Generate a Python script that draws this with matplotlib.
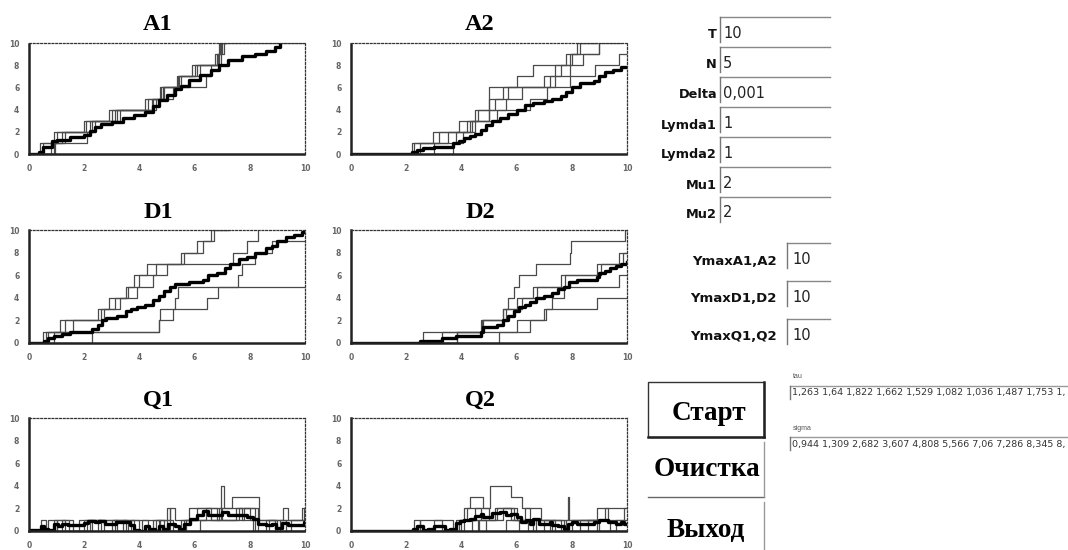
import numpy as np
import matplotlib
matplotlib.use("Agg")
import matplotlib.pyplot as plt
from matplotlib.lines import Line2D
from matplotlib.patches import Rectangle

W, H = 1068, 550

# ---- arrivals A1 / A2 : jump times of the 5 realisations ----
a1_runs = [
    [0.95, 1.2, 2.0, 3.1, 4.6, 5.2, 6.4, 6.6, 6.9, 6.92],
    [0.5, 1.0, 2.2, 2.9, 4.3, 4.8, 5.4, 6.0, 6.85, 7.0, 7.1],
    [0.8, 2.1, 2.3, 3.3, 4.5, 4.9, 5.5, 6.2, 6.95, 7.05, 7.2],
    [0.4, 0.9, 2.4, 3.0, 4.2, 4.75, 5.35, 6.1, 6.8, 6.95, 7.15],
    [0.9, 1.3, 2.05, 3.2, 4.45, 4.85, 5.45, 5.9, 6.75, 6.9, 7.0],
]
a1_mean_t = [0, 0.35, 0.5, 0.85, 1.0, 1.5, 2.0, 2.2, 2.4, 2.6, 3.0, 3.4, 3.8, 4.2, 4.5,
             4.7, 5.0, 5.3, 5.5, 5.8, 6.2, 6.6, 6.9, 7.2, 7.7, 8.2, 8.6, 8.9, 9.1]
a1_mean_v = [0, 0.2, 0.6, 1.2, 1.3, 1.5, 1.7, 2.1, 2.4, 2.7, 2.9, 3.2, 3.5, 3.8, 4.3,
             4.9, 5.3, 5.9, 6.1, 6.7, 7.1, 7.6, 8.0, 8.5, 8.8, 9.0, 9.3, 9.6, 10.0]

a2_runs = [
    [2.2, 2.97, 4.3, 5.0, 5.0, 5.0, 7.95, 7.95, 7.95, 8.97, 8.97],
    [3.7, 4.05, 4.5, 5.3, 6.5, 7.1, 7.4, 8.85, 9.7],
    [2.5, 3.2, 3.9, 4.5, 5.0, 5.7, 7.2, 7.4, 8.0, 8.3, 8.9, 9.3],
    [2.3, 3.5, 4.2, 4.6, 5.2, 5.5, 6.0, 6.6, 7.8, 8.2, 8.9, 9.5],
    [3.0, 3.8, 4.4, 5.0, 5.6, 6.2, 7.0, 7.6, 8.4, 9.0, 9.8],
]
a2_mean_t = [0, 2.2, 2.4, 2.6, 3.0, 3.7, 3.9, 4.1, 4.3, 4.5, 4.7, 4.9, 5.1, 5.4, 5.7,
             6.0, 6.3, 6.6, 7.0, 7.3, 7.6, 7.8, 8.0, 8.3, 8.8, 9.0, 9.2, 9.5, 9.8, 10]
a2_mean_v = [0, 0.2, 0.4, 0.5, 0.6, 1.0, 1.2, 1.4, 1.6, 1.8, 2.2, 2.6, 3.0, 3.2, 3.6,
             4.0, 4.4, 4.6, 4.8, 5.0, 5.2, 5.6, 6.0, 6.4, 6.6, 7.0, 7.4, 7.6, 7.8, 7.8]

# ---- departures D1 / D2 ----
d1_runs = [
    [0.5, 4.7, 4.75, 6.44, 6.86],
    [0.6, 1.12, 2.7, 3.3, 3.5, 3.8, 4.26, 7.4, 7.9, 8.3, 8.31],
    [2.27, 4.7, 5.2, 5.3, 5.4, 7.58, 7.7, 8.2, 8.8],
    [0.7, 1.3, 2.6, 2.9, 3.6, 4.0, 4.6, 5.5, 6.1, 6.6, 7.2, 7.5, 8.0, 8.6, 9.0],
    [0.9, 1.6, 2.5, 3.1, 3.9, 4.5, 5.0, 5.6, 6.3, 6.7, 7.3, 8.1, 8.5, 9.2],
]
d1_mean_t = [0, 0.55, 0.7, 0.9, 1.2, 1.5, 2.3, 2.5, 2.65, 2.8, 3.2, 3.5, 3.7, 3.9, 4.2,
             4.5, 4.7, 4.9, 5.1, 5.3, 5.8, 6.3, 6.5, 6.8, 7.1, 7.3, 7.6, 7.9, 8.2, 8.6,
             8.8, 9.0, 9.3, 9.6, 9.9, 10]
d1_mean_v = [0, 0.2, 0.4, 0.6, 0.8, 1.0, 1.2, 1.6, 2.0, 2.2, 2.4, 2.8, 3.0, 3.2, 3.4,
             3.8, 4.2, 4.6, 5.0, 5.2, 5.4, 5.6, 6.0, 6.2, 6.6, 7.0, 7.4, 7.6, 8.0, 8.4,
             8.6, 9.0, 9.4, 9.6, 9.8, 9.8]

d2_runs = [
    [3.84, 4.75, 5.5, 5.7, 5.9, 6.1, 6.7, 7.95, 7.96, 9.94],
    [3.84, 6.5, 7.05, 8.9],
    [5.35, 6.0, 7.0, 7.3, 7.7, 9.7],
    [3.3, 4.8, 5.6, 6.2, 6.75, 7.75, 9.05, 9.85],
    [2.6, 4.7, 5.5, 6.0, 6.6, 7.6, 8.9, 9.7],
]
d2_mean_t = [0, 2.5, 3.3, 3.8, 4.7, 4.8, 5.3, 5.5, 5.7, 5.9, 6.1, 6.3, 6.5, 6.7, 7.0,
             7.3, 7.5, 7.7, 7.9, 8.2, 8.9, 9.0, 9.2, 9.4, 9.6, 9.8, 10]
d2_mean_v = [0, 0.2, 0.4, 0.6, 1.0, 1.4, 1.6, 2.0, 2.4, 2.8, 3.2, 3.4, 3.6, 4.0, 4.2,
             4.4, 4.8, 5.0, 5.4, 5.6, 5.8, 6.2, 6.4, 6.6, 6.8, 7.0, 7.2]

# ---- queues Q1 / Q2 : (change times, values) ----
q1_runs = [
    ([0, 0.45, 0.6, 5.0, 5.1, 6.2, 6.95, 7.05, 7.35, 8.35, 9.2, 9.4, 9.9],
     [0, 1, 0, 2, 0, 1, 4, 2, 3, 1, 2, 1, 2]),
    ([0, 0.9, 1.0, 1.2, 1.45, 2.0, 2.6, 3.1, 3.5, 4.6, 4.75, 5.6, 6.9, 7.7, 8.1, 8.7, 9.0],
     [0, 1, 0, 1, 0, 1, 0, 1, 0, 1, 0, 1, 2, 1, 0, 1, 0]),
    ([0, 2.1, 2.3, 2.5, 3.2, 3.4, 4.0, 4.1, 5.1, 5.3, 5.8, 6.6, 7.5, 8.0, 8.9, 9.1, 9.95],
     [0, 1, 0, 1, 0, 1, 0, 1, 2, 1, 2, 1, 2, 1, 0, 1, 2]),
    ([0, 0.7, 1.3, 1.8, 2.7, 3.0, 3.8, 4.7, 4.9, 5.5, 6.4, 6.8, 7.6, 8.2, 9.5],
     [0, 1, 0, 1, 0, 1, 0, 1, 0, 1, 2, 1, 2, 0, 1]),
    ([0, 1.0, 1.6, 2.2, 3.6, 3.7, 4.3, 4.5, 5.2, 5.7, 6.1, 7.0, 7.8, 8.3, 8.6, 9.3],
     [0, 1, 0, 1, 0, 1, 0, 1, 0, 1, 2, 1, 2, 0, 1, 0]),
]
q1_mean_t = [0, 0.45, 0.55, 0.7, 0.9, 1.05, 1.2, 1.4, 2.0, 2.15, 2.4, 2.55, 2.75, 3.0,
             3.15, 3.5, 3.65, 3.8, 4.0, 4.2, 4.35, 4.55, 4.7, 4.85, 5.05, 5.3, 5.45,
             5.6, 5.85, 6.1, 6.3, 6.5, 6.9, 7.0, 7.2, 7.6, 7.9, 8.1, 8.3, 8.6, 8.8,
             8.95, 9.15, 9.4, 9.8, 9.95, 10]
q1_mean_v = [0.1, 0.4, 0.2, 0.1, 0.6, 0.4, 0.6, 0.5, 0.7, 0.9, 0.8, 0.9, 0.6, 0.6,
             0.8, 0.8, 0.5, 0.1, 0.0, 0.4, 0.2, 0.0, 0.4, 0.2, 0.6, 0.4, 0.2,
             0.6, 1.1, 1.4, 1.8, 1.4, 1.4, 1.7, 1.4, 1.4, 1.2, 1.1, 0.6, 0.5, 0.6,
             0.3, 0.7, 0.5, 0.5, 0.8, 0.8]

q2_runs = [
    ([0, 2.5, 3.7, 4.1, 4.3, 4.8, 5.05, 5.8, 6.2, 6.5, 7.85, 7.9, 8.9, 9.3, 9.9],
     [0, 1, 0, 2, 3, 2, 4, 3, 2, 1, 3, 1, 2, 1, 2]),
    ([0, 2.3, 2.5, 3.9, 4.6, 4.65, 5.3, 5.8, 6.6, 7.3, 7.4, 8.0, 9.0],
     [0, 1, 0, 1, 0, 1, 2, 1, 0, 1, 0, 1, 0]),
    ([0, 3.0, 3.3, 4.0, 4.5, 5.0, 5.5, 6.0, 6.3, 6.9, 7.7, 7.8, 9.4],
     [0, 1, 0, 1, 2, 1, 2, 1, 2, 1, 0, 1, 0]),
    ([0, 3.8, 4.2, 4.7, 5.2, 5.9, 6.4, 7.0, 7.6, 8.3, 8.9, 9.6],
     [0, 1, 2, 1, 2, 1, 0, 1, 0, 1, 0, 1]),
    ([0, 4.4, 4.9, 5.6, 6.1, 6.7, 7.2, 8.6, 9.2],
     [0, 1, 0, 1, 0, 1, 0, 1, 2]),
]
q2_mean_t = [0, 2.25, 2.4, 2.6, 2.8, 3.0, 3.4, 3.6, 3.8, 3.95, 4.1, 4.3, 4.5, 4.7, 4.8,
             5.0, 5.1, 5.4, 5.6, 5.8, 6.0, 6.15, 6.35, 6.5, 6.6, 6.8, 7.2, 7.3, 7.5,
             7.7, 7.85, 8.0, 8.2, 8.5, 8.8, 9.0, 9.3, 9.6, 9.8, 9.9, 10]
q2_mean_v = [0, 0.2, 0.4, 0.1, 0.2, 0.4, 0.1, 0.2, 0.7, 0.9, 1.0, 1.1, 1.3, 1.5, 1.2,
             1.2, 1.6, 1.7, 1.4, 1.5, 1.2, 0.8, 1.0, 0.6, 1.1, 0.6, 0.8, 0.5, 0.4,
             0.2, 0.6, 0.8, 0.6, 0.6, 0.8, 1.0, 0.8, 0.6, 0.8, 0.6, 0.6]

ticks = [0, 2, 4, 6, 8, 10]

# ---- form fields ----
param_names = ["T", "N", "Delta", "Lymda1", "Lymda2", "Mu1", "Mu2"]
param_values = ["10", "5", "0,001", "1", "1", "2", "2"]
ymax_names = ["YmaxA1,A2", "YmaxD1,D2", "YmaxQ1,Q2"]
ymax_values = ["10", "10", "10"]
buttons = ["Старт", "Очистка", "Выход"]
tau = ["1,263", "1,64", "1,822", "1,662", "1,529", "1,082", "1,036", "1,487", "1,753", "1,"]
sigma = ["0,944", "1,309", "2,682", "3,607", "4,808", "5,566", "7,06", "7,286", "8,345", "8,"]


def fx(x):
    return x / W


def fy(y):
    return 1 - y / H


def hline(fig, x0, x1, y, color="#888888", lw=1.0):
    fig.add_artist(Line2D([fx(x0), fx(x1)], [fy(y), fy(y)], color=color, lw=lw))


def vline(fig, x, y0, y1, color="#888888", lw=1.0):
    fig.add_artist(Line2D([fx(x), fx(x)], [fy(y0), fy(y1)], color=color, lw=lw))


def make_axes(fig, x0, y0, x1, y1, title):
    ax = fig.add_axes([fx(x0), fy(y1), (x1 - x0) / W, (y1 - y0) / H])
    ax.set_xlim(0, 10)
    ax.set_ylim(0, 10)
    ax.set_xticks(ticks)
    ax.set_yticks(ticks)
    ax.tick_params(length=0, labelsize=5.5, labelcolor="#666666", pad=7)
    for lab in ax.get_xticklabels() + ax.get_yticklabels():
        lab.set_fontweight("bold")
    for side in ["left", "bottom"]:
        ax.spines[side].set_linewidth(1.8)
        ax.spines[side].set_linestyle((0, (2, 1)))
        ax.spines[side].set_color("#222222")
    for side in ["top", "right"]:
        ax.spines[side].set_linewidth(0.9)
        ax.spines[side].set_linestyle((0, (1.5, 1.5)))
        ax.spines[side].set_color("#333333")
    fig.text(fx((x0 + x1) / 2 - 9), fy(25 + y0 - 43), title, ha="center", va="center",
             family="Liberation Serif", fontweight="bold", fontsize=17.5)
    return ax


def draw_counts(ax, runs, mean_t, mean_v):
    for jumps in runs:
        xs = np.r_[0, jumps, 10]
        ys = np.r_[0, np.arange(1, len(jumps) + 1), len(jumps)]
        ax.plot(xs, ys, drawstyle="steps-post", color="#4a4a4a", lw=0.9)
    ax.plot(mean_t, mean_v, drawstyle="steps-post", color="black", lw=2.4)


def draw_queue(ax, runs, mean_t, mean_v):
    for t, v in runs:
        ax.plot(list(t) + [10], list(v) + [v[-1]], drawstyle="steps-post",
                color="#4a4a4a", lw=0.9)
    ax.plot(mean_t, mean_v, drawstyle="steps-post", color="black", lw=2.4)


fig = plt.figure(figsize=(W / 100, H / 100), dpi=100)
fig.patch.set_facecolor("white")

ax = make_axes(fig, 29, 43, 305, 154, "A1")
draw_counts(ax, a1_runs, a1_mean_t, a1_mean_v)
ax = make_axes(fig, 351, 43, 627, 154, "A2")
draw_counts(ax, a2_runs, a2_mean_t, a2_mean_v)
ax = make_axes(fig, 29, 230, 305, 343, "D1")
draw_counts(ax, d1_runs, d1_mean_t, d1_mean_v)
ax = make_axes(fig, 351, 230, 627, 343, "D2")
draw_counts(ax, d2_runs, d2_mean_t, d2_mean_v)
ax = make_axes(fig, 29, 418, 305, 531, "Q1")
draw_queue(ax, q1_runs, q1_mean_t, q1_mean_v)
ax = make_axes(fig, 351, 418, 627, 531, "Q2")
draw_queue(ax, q2_runs, q2_mean_t, q2_mean_v)

# parameter fields
for i, (name, val) in enumerate(zip(param_names, param_values)):
    top = 17 + 30 * i
    hline(fig, 720, 830, top)
    vline(fig, 720, top, top + 25, color="#777777")
    fig.text(fx(717), fy(top + 18), name, ha="right", va="center",
             family="DejaVu Sans", fontweight="bold", fontsize=9.3, color="#111111")
    fig.text(fx(723), fy(top + 16), val, ha="left", va="center",
             family="DejaVu Sans", fontsize=10.5, color="#222222")

for i, (name, val) in enumerate(zip(ymax_names, ymax_values)):
    top = 243 + 38 * i
    hline(fig, 787, 830, top)
    vline(fig, 787, top, top + 25, color="#777777")
    fig.text(fx(777), fy(top + 18), name, ha="right", va="center",
             family="DejaVu Sans", fontweight="bold", fontsize=9.5, color="#111111")
    fig.text(fx(792), fy(top + 16), val, ha="left", va="center",
             family="DejaVu Sans", fontsize=10.5, color="#222222")

# buttons
fig.add_artist(Rectangle((fx(648), fy(437)), (764 - 648) / W, (437 - 382) / H,
                         fill=False, edgecolor="#333333", lw=1.0))
hline(fig, 648, 764, 437, color="#222222", lw=1.8)
vline(fig, 764, 382, 437, color="#222222", lw=1.8)
hline(fig, 648, 764, 497, color="#666666", lw=1.0)
vline(fig, 764, 442, 497, color="#999999", lw=1.0)
vline(fig, 764, 502, 550, color="#999999", lw=1.0)
for label, (cx, cy) in zip(buttons, [(709, 413), (707, 469), (706, 531)]):
    fig.text(fx(cx), fy(cy), label, ha="center", va="center",
             family="Liberation Serif", fontweight="bold", fontsize=19.5)

# tau / sigma lists
for name, vals, ly, top in [("tau", tau, 377, 386), ("sigma", sigma, 428, 437)]:
    fig.text(fx(793), fy(ly), name, ha="left", va="center",
             family="Liberation Sans", fontsize=5, color="#555555")
    hline(fig, 790, 1068, top, color="#999999")
    vline(fig, 790, top, top + 13, color="#777777")
    fig.text(fx(792), fy(top + 7), " ".join(vals), ha="left", va="center",
             family="DejaVu Sans", fontsize=6.8, color="#333333")

fig.savefig("out.png", dpi=100, facecolor="white")
